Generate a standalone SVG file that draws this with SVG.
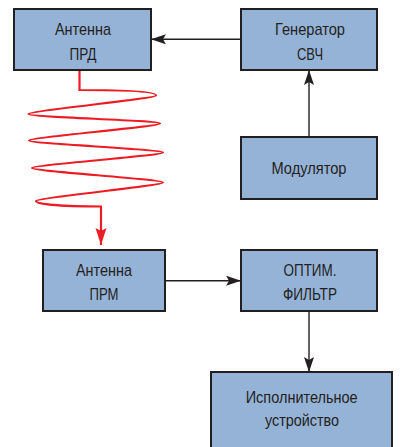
<svg xmlns="http://www.w3.org/2000/svg" width="400" height="447" viewBox="0 0 400 447">
<style>
.box{fill:#95b3d7;stroke:#231f20;stroke-width:2}
.t{font-family:"Liberation Sans",Arial,sans-serif;font-size:17px;fill:#231f20;text-anchor:middle}
.c{fill:none;stroke:#231f20;stroke-width:1.4}
.w{fill:none;stroke:#ed1c24;stroke-width:2.2;stroke-linejoin:miter}
</style>
<defs>
<marker id="ab" markerUnits="userSpaceOnUse" markerWidth="16" markerHeight="10" refX="15" refY="5" orient="auto">
<path d="M0,0 L15,5 L0,10 L3,5 Z" fill="#231f20"/>
</marker>
<marker id="ar" markerUnits="userSpaceOnUse" markerWidth="18" markerHeight="12" refX="17" refY="5.5" orient="auto">
<path d="M0,0 L17,5.5 L0,11 L3,5.5 Z" fill="#ed1c24"/>
</marker>
</defs>
<rect width="400" height="447" fill="#ffffff"/>
<g id="connectors">
<line class="c" x1="241" y1="39.3" x2="151" y2="39.3" marker-end="url(#ab)"/>
<line class="c" x1="309" y1="137" x2="309" y2="70" marker-end="url(#ab)"/>
<line class="c" x1="165" y1="280.7" x2="241" y2="280.7" marker-end="url(#ab)"/>
<line class="c" x1="309" y1="311" x2="309" y2="372" marker-end="url(#ab)"/>
<path class="w" d="M79.5,70 L79.5,90 C125,90 156,91.5 156,95.5 C156,98.5 28.5,111 28.5,114 C28.5,117 160,120.5 160,123.5 C160,126.5 29,137.5 29,140.5 C29,143.5 163,149.5 163,152.5 C163,155.5 32,165 32,168 C32,171 163,179.5 163,182.5 C163,185.5 36,198 36,201 C36,204 62,206.5 101,206.5 L101,245" marker-end="url(#ar)"/>
</g>
<g id="antenna-prd">
<rect class="box" x="14" y="9" width="137" height="61"/>
<text class="t" x="83" y="35" textLength="56" lengthAdjust="spacingAndGlyphs">Антенна</text>
<text class="t" x="83" y="60" textLength="27" lengthAdjust="spacingAndGlyphs">ПРД</text>
</g>
<g id="generator">
<rect class="box" x="241" y="9" width="136" height="61"/>
<text class="t" x="310" y="35" textLength="70" lengthAdjust="spacingAndGlyphs">Генератор</text>
<text class="t" x="310" y="59.5" textLength="26" lengthAdjust="spacingAndGlyphs">СВЧ</text>
</g>
<g id="modulator">
<rect class="box" x="241" y="137" width="136" height="62"/>
<text class="t" x="309" y="173.5" textLength="75" lengthAdjust="spacingAndGlyphs">Модулятор</text>
</g>
<g id="antenna-prm">
<rect class="box" x="43" y="250" width="122" height="61"/>
<text class="t" x="104" y="275.7" textLength="56" lengthAdjust="spacingAndGlyphs">Антенна</text>
<text class="t" x="104" y="300" textLength="29" lengthAdjust="spacingAndGlyphs">ПРМ</text>
</g>
<g id="filter">
<rect class="box" x="241" y="250" width="136" height="61"/>
<text class="t" x="310" y="275.7" textLength="53" lengthAdjust="spacingAndGlyphs">ОПТИМ.</text>
<text class="t" x="310" y="299.5" textLength="54" lengthAdjust="spacingAndGlyphs">ФИЛЬТР</text>
</g>
<g id="actuator">
<rect class="box" x="211" y="372" width="181" height="78"/>
<text class="t" x="301.7" y="403.3" textLength="112" lengthAdjust="spacingAndGlyphs">Исполнительное</text>
<text class="t" x="302" y="426" textLength="74" lengthAdjust="spacingAndGlyphs">устройство</text>
</g>
</svg>
